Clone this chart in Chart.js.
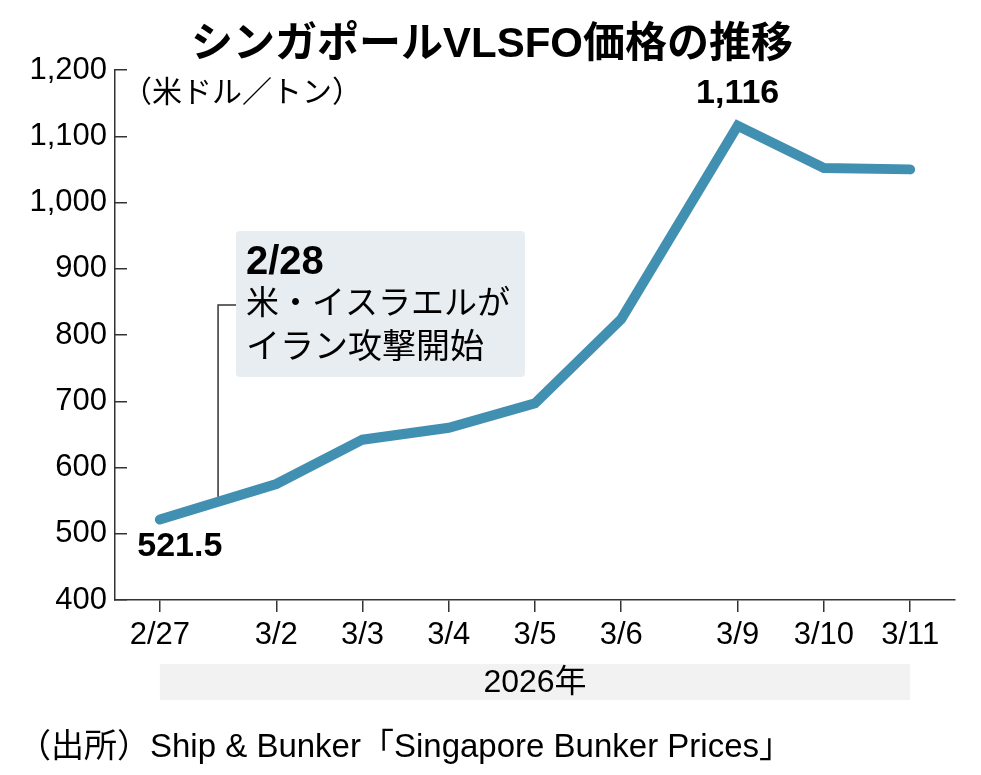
<!DOCTYPE html>
<html>
<head>
<meta charset="utf-8">
<script src="https://cdn.jsdelivr.net/npm/chart.js@4"></script>
<style>
  html, body { margin: 0; padding: 0; background: #fff; }
  canvas { display: block; }
</style>
</head>
<body>
<canvas id="chart" width="981" height="775"></canvas>
<script>
const dates = ['2/27', '3/2', '3/3', '3/4', '3/5', '3/6', '3/9', '3/10', '3/11'];
const prices = [521.5, 575, 642, 660, 697, 824, 1116, 1052, 1050];
const yTicks = [400, 500, 600, 700, 800, 900, 1000, 1100, 1200];
const year = 2026;

const titleText = 'シンガポールVLSFO価格の推移';
const unitText = '（米ドル／トン）';
const yearText = '2026年';
const sourceText = '（出所）Ship & Bunker「Singapore Bunker Prices」';
const noteDate = '2/28';
const noteLines = ['米・イスラエルが', 'イラン攻撃開始'];

const LATIN = '"Liberation Sans", "Noto Sans CJK JP", sans-serif';
const BLUE = '#4290b1';
const INK = '#333';

// trading days, weekends shown as a short extra gap
const weekendGap = 0.35;
const xs = [];
dates.forEach((d, i) => {
    if (i === 0) { xs.push(0); return; }
    const [m0, d0] = dates[i - 1].split('/').map(Number);
    const [m1, d1] = d.split('/').map(Number);
    const days = (new Date(year, m1 - 1, d1) - new Date(year, m0 - 1, d0)) / 86400000;
    xs.push(xs[i - 1] + 1 + (days > 1 ? weekendGap : 0));
});

const points = xs.map((x, i) => ({ x: x, y: prices[i] }));

const decor = {
    id: 'decor',
    afterDraw(chart) {
        const c = chart.ctx;
        const sx = chart.scales.x;
        const sy = chart.scales.y;
        c.save();
        c.fillStyle = '#000';
        c.textBaseline = 'middle';

        // title
        c.font = 'bold 42px ' + LATIN;
        c.textAlign = 'center';
        c.fillText(titleText, 492, 45);

        // unit
        c.font = '30px ' + LATIN;
        c.textAlign = 'left';
        c.fillText(unitText, 122, 94);

        // value labels
        c.font = 'bold 34px ' + LATIN;
        c.textAlign = 'center';
        const first = 0, peak = prices.indexOf(Math.max(...prices));
        c.fillText(prices[first].toLocaleString('en-US'), sx.getPixelForValue(xs[first]) + 20, sy.getPixelForValue(prices[first]) + 27);
        c.fillText(prices[peak].toLocaleString('en-US'), sx.getPixelForValue(xs[peak]), sy.getPixelForValue(prices[peak]) - 32);

        // annotation box
        const bx = 236, by = 231, bw = 289, bh = 146;
        c.fillStyle = '#e8edf1';
        c.beginPath();
        c.roundRect(bx, by, bw, bh, 4);
        c.fill();
        c.fillStyle = '#000';
        c.textAlign = 'left';
        c.font = 'bold 40px ' + LATIN;
        c.fillText(noteDate, 246, 263);
        c.font = '33px ' + LATIN;
        c.fillText(noteLines[0], 246, 305);
        c.font = '34px ' + LATIN;
        c.fillText(noteLines[1], 246, 349);

        // leader to the line between 2/27 and 3/2
        const lx = (sx.getPixelForValue(xs[0]) + sx.getPixelForValue(xs[1])) / 2;
        const ly = (sy.getPixelForValue(prices[0]) + sy.getPixelForValue(prices[1])) / 2 - 5;
        c.strokeStyle = INK;
        c.lineWidth = 1.5;
        c.beginPath();
        c.moveTo(bx, 305);
        c.lineTo(lx, 305);
        c.lineTo(lx, ly);
        c.stroke();

        // year band
        const x0 = sx.getPixelForValue(xs[0]);
        const x1 = sx.getPixelForValue(xs[xs.length - 1]);
        c.fillStyle = '#f2f2f2';
        c.fillRect(x0, 664, x1 - x0, 36);
        c.fillStyle = '#000';
        c.textAlign = 'center';
        c.font = '32px ' + LATIN;
        c.fillText(yearText, (x0 + x1) / 2, 683);

        // source
        c.textAlign = 'left';
        c.font = '33px ' + LATIN;
        c.fillText(sourceText, 18, 748);
        c.restore();
    }
};

new Chart(document.getElementById('chart'), {
    type: 'line',
    data: {
        datasets: [{
            data: points,
            borderColor: BLUE,
            borderWidth: 10,
            borderCapStyle: 'round',
            borderJoinStyle: 'miter',
            pointRadius: 0,
            tension: 0,
            clip: false
        }]
    },
    options: {
        responsive: false,
        animation: false,
        devicePixelRatio: 1,
        layout: { padding: { top: 70, right: 26, left: 0, bottom: 0 } },
        plugins: {
            legend: { display: false },
            tooltip: { enabled: false },
            title: { display: false }
        },
        scales: {
            x: {
                type: 'linear',
                min: xs[0] - 0.52,
                max: xs[xs.length - 1] + 0.52,
                afterBuildTicks: (scale) => {
                    scale.ticks = xs.map(v => ({ value: v }));
                },
                afterFit: (scale) => { scale.height = 175; },
                ticks: {
                    autoSkip: false,
                    maxRotation: 0,
                    padding: 5,
                    color: '#000',
                    font: { family: LATIN, size: 31 },
                    callback: (v) => {
                        const i = xs.findIndex(x => Math.abs(x - v) < 1e-6);
                        return i >= 0 ? dates[i] : '';
                    }
                },
                grid: {
                    drawOnChartArea: false,
                    drawTicks: true,
                    tickLength: 12,
                    color: INK,
                    lineWidth: 1.5
                },
                border: { display: true, color: INK, width: 1.5 }
            },
            y: {
                min: yTicks[0],
                max: yTicks[yTicks.length - 1],
                afterBuildTicks: (scale) => {
                    scale.ticks = yTicks.map(v => ({ value: v }));
                },
                afterFit: (scale) => { scale.width = 115; },
                ticks: {
                    padding: 20,
                    color: '#000',
                    font: { family: LATIN, size: 31 },
                    callback: (v) => v.toLocaleString('en-US')
                },
                grid: {
                    drawOnChartArea: false,
                    drawTicks: true,
                    tickLength: -12,
                    color: INK,
                    lineWidth: 1.5
                },
                border: { display: true, color: INK, width: 1.5 }
            }
        }
    },
    plugins: [decor]
});
</script>
</body>
</html>
